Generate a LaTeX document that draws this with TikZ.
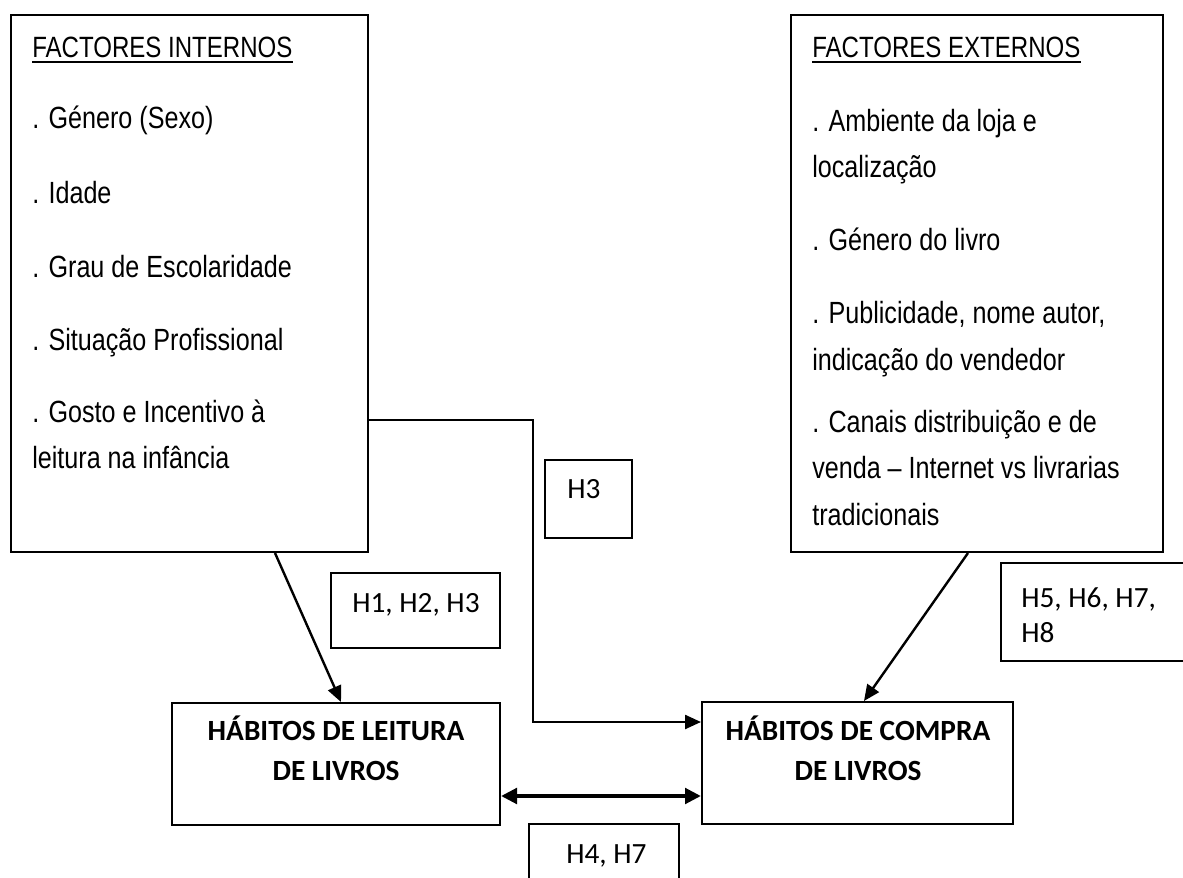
\documentclass[tikz,border=0pt]{standalone}
\usepackage{fontspec}
\newfontfamily\itemfont[FakeStretch=0.82]{Liberation Sans}
\newfontfamily\calfont{Carlito}
\usetikzlibrary{arrows.meta}
\begin{document}
\begin{tikzpicture}[x=0.75pt,y=-0.75pt,
  bigbox/.style={draw, line width=1.5pt, inner sep=0pt, fill=white},
  hbox/.style={draw, line width=1.2pt, inner sep=0pt, fill=white},
  titletxt/.style={anchor=base west, inner sep=0pt, font=\itemfont\fontsize{22}{24}\selectfont},
  itemtxt/.style={anchor=base west, inner sep=0pt, font=\itemfont\fontsize{23}{25}\selectfont},
  habtxt/.style={anchor=base, inner sep=0pt, font=\calfont\bfseries\fontsize{22}{26}\selectfont},
  labtxt/.style={anchor=base west, inner sep=0pt, font=\calfont\fontsize{22}{26}\selectfont},
  conn/.style={line width=1.8pt, -{Triangle[length=12pt,width=10.5pt]}},
  dblconn/.style={line width=3pt, {Triangle[length=12pt,width=11.5pt]}-{Triangle[length=12pt,width=11.5pt]}},
  uline/.style={line width=1.3pt}
]
\useasboundingbox (0,0) rectangle (1183,878);

% big boxes
\node[bigbox, minimum width=267.75pt, minimum height=402.75pt] (FI) at (189.5,283.5) {};
\node[bigbox, minimum width=279pt, minimum height=402.75pt] (FE) at (977,283.5) {};

% hypothesis boxes
\node[hbox, minimum width=65.25pt, minimum height=58.5pt] (B3) at (588.5,499) {};
\node[hbox, minimum width=126.75pt, minimum height=56.25pt] (B123) at (415.5,610.5) {};
\node[hbox, minimum width=141pt, minimum height=73.5pt] (B5) at (1095,612) {};
\node[hbox, minimum width=112.5pt, minimum height=45.75pt] (B47) at (604,854.5) {};

% habit boxes
\node[bigbox, minimum width=246pt, minimum height=91.5pt] (HL) at (336,764) {};
\node[bigbox, minimum width=233.25pt, minimum height=91.5pt] (HC) at (857.5,763) {};

% left box texts
\node[titletxt] (fi0) at (32,57) {FACTORES INTERNOS};
\draw[uline] ([yshift=-3.75pt]fi0.base west) -- ([yshift=-3.75pt]fi0.base east);
\node[itemtxt] (fi1) at (32,128) {. Género (Sexo)};
\node[itemtxt] (fi2) at (32,203) {. Idade};
\node[itemtxt] (fi3) at (32,277) {. Grau de Escolaridade};
\node[itemtxt] (fi4) at (32,350) {. Situação Profissional};
\node[itemtxt] (fi5) at (32,422) {. Gosto e Incentivo à};
\node[itemtxt] (fi6) at (32,468) {leitura na infância};

% right box texts
\node[titletxt] (fe0) at (812,57) {FACTORES EXTERNOS};
\draw[uline] ([yshift=-3.75pt]fe0.base west) -- ([yshift=-3.75pt]fe0.base east);
\node[itemtxt] (fe1) at (812,131) {. Ambiente da loja e};
\node[itemtxt] (fe2) at (812,177) {localização};
\node[itemtxt] (fe3) at (812,250) {. Género do livro};
\node[itemtxt] (fe4) at (812,323) {. Publicidade, nome autor,};
\node[itemtxt] (fe5) at (812,370) {indicação do vendedor};
\node[itemtxt] (fe6) at (812,432) {. Canais distribuição e de};
\node[itemtxt] (fe7) at (812,478) {venda – Internet vs livrarias};
\node[itemtxt] (fe8) at (812,525) {tradicionais};

% habit texts
\node[habtxt] (hl1) at (336,740) {HÁBITOS DE LEITURA};
\node[habtxt] (hl2) at (336,780) {DE LIVROS};
\node[habtxt] (hc1) at (858,740) {HÁBITOS DE COMPRA};
\node[habtxt] (hc2) at (858,780) {DE LIVROS};

% labels
\node[labtxt] (l3) at (567,498) {H3};
\node[labtxt] (l123) at (352,612) {H1, H2, H3};
\node[labtxt] (l5a) at (1021,607) {H5, H6, H7,};
\node[labtxt] (l5b) at (1021,642) {H8};
\node[labtxt] (l47) at (566,863) {H4, H7};

% connectors
\draw[conn] (FI.south -| 275,0) -- (HL.north -| 341,0);
\draw[conn] (FE.south -| 968,0) -- (HC.north -| 864,0);
\draw[conn] (FI.east |- 0,420) -- (533,420) -- (533,722) -- (HC.west |- 0,722);
\draw[dblconn] (HL.east |- 0,796) -- (HC.west |- 0,796);
\end{tikzpicture}
\end{document}
